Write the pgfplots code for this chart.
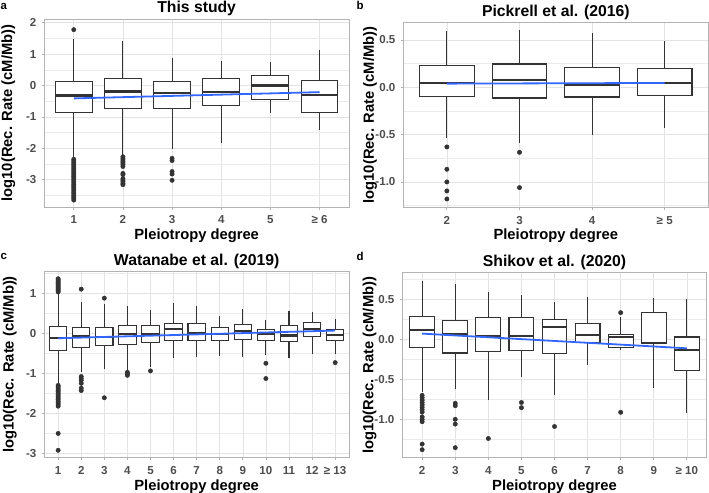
\documentclass[border=0pt]{standalone}
\usepackage{pgfplots}
\pgfplotsset{compat=1.18}
\usepgfplotslibrary{statistics}
\usepackage{fontspec}
\setmainfont{Liberation Sans}
\definecolor{boxc}{HTML}{333333}
\definecolor{fr}{HTML}{B3B3B3}
\definecolor{gridc}{HTML}{E3E3E3}
\definecolor{tickc}{HTML}{4D4D4D}
\definecolor{regc}{HTML}{3366FF}
\newcommand{\mn}{\mbox{-}}
\newcommand{\bx}[6]{\addplot[boxc, line width=1.1bp, boxplot/every median/.style={line width=2.2bp}, boxplot/every box/.style={fill=white}, boxplot prepared={draw direction=y, draw position=#1, lower whisker=#2, lower quartile=#3, median=#4, upper quartile=#5, upper whisker=#6, box extend=0.75, whisker extend=0}] coordinates {};}
\pgfplotsset{
 panel/.style={
  scale only axis, anchor=south west, enlargelimits=false,
  axis line style={fr, line width=0.8bp},
  tick style={fr, line width=0.8bp},
  tick align=outside, tick pos=left,
  major tick length=2.7bp, minor tick length=0pt,
  xmajorgrids, ymajorgrids, yminorgrids,
  major grid style={gridc, line width=0.6bp},
  minor grid style={gridc!70, line width=0.35bp},
  ticklabel style={font=\fontsize{11.6}{12}\selectfont\bfseries, text=tickc},
  xticklabel style={anchor=north, inner sep=0pt, yshift=-6bp},
  yticklabel style={anchor=east, inner sep=0pt, xshift=-5bp},
 },
 outl/.style={only marks, mark=*, mark size=2.2bp, boxc},
 reg/.style={regc, line width=1.8bp},
}
\newcommand{\ylab}{\fontsize{14.8}{16}\selectfont\bfseries log10(Rec. Rate (cM/Mb))}
\newcommand{\xlab}{\fontsize{14.8}{16}\selectfont\bfseries Pleiotropy degree}
\newcommand{\ttl}{\fontsize{15.8}{17}\selectfont\bfseries}
\newcommand{\plab}{\fontsize{11.5}{12}\selectfont\bfseries}
\begin{document}
\begin{tikzpicture}
\useasboundingbox (0bp,0bp) rectangle (709bp,493bp);
% ---------- a ----------
\begin{axis}[panel, name=A, at={(44.3bp,286bp)}, width=304.7bp, height=188bp,
  xmin=0.4, xmax=6.6, xtick={1,2,3,4,5,6}, xticklabels={1,2,3,4,5,≥ 6},
  ymin=-3.87, ymax=2.12, ytick={-3,-2,-1,0,1,2}, yticklabels={\mn3,\mn2,\mn1,0,1,2},
  minor ytick={-3.5,-2.5,-1.5,-0.5,0.5,1.5}]
\bx{1}{-2.3}{-0.85}{-0.32}{0.13}{1.48}
\bx{2}{-2.21}{-0.74}{-0.19}{0.22}{1.43}
\bx{3}{-2.01}{-0.74}{-0.24}{0.12}{0.88}
\bx{4}{-1.82}{-0.64}{-0.20}{0.22}{0.77}
\bx{5}{-0.86}{-0.45}{0.0}{0.33}{0.74}
\bx{6}{-1.41}{-0.87}{-0.29}{0.15}{1.12}
\addplot[outl] coordinates {(1,1.78)
 (1,-2.35) (1,-2.4) (1,-2.45) (1,-2.5) (1,-2.55) (1,-2.6) (1,-2.65) (1,-2.7) (1,-2.75) (1,-2.8)
 (1,-2.85) (1,-2.9) (1,-2.95) (1,-3.0) (1,-3.05) (1,-3.1) (1,-3.15) (1,-3.2) (1,-3.25) (1,-3.3)
 (1,-3.35) (1,-3.4) (1,-3.45) (1,-3.5) (1,-3.55) (1,-3.6) (1,-3.65)
 (2,-2.27) (2,-2.32) (2,-2.37) (2,-2.42) (2,-2.47) (2,-2.52) (2,-2.58) (2,-2.8) (2,-2.84)
 (2,-2.97) (2,-3.02) (2,-3.07) (2,-3.12) (2,-3.16)
 (3,-2.32) (3,-2.39) (3,-2.74) (3,-2.82) (3,-3.02)};
\addplot[reg] coordinates {(1,-0.41) (6,-0.21)};
\end{axis}
% ---------- b ----------
\begin{axis}[panel, name=B, at={(403.3bp,285.7bp)}, width=305bp, height=184.6bp,
  xmin=0.4, xmax=4.6, xtick={1,2,3,4}, xticklabels={2,3,4,≥ 5},
  ymin=-1.268, ymax=0.683, ytick={-1,-0.5,0,0.5}, yticklabels={\mn1.0,\mn0.5,0.0,0.5},
  minor ytick={-1.25,-0.75,-0.25,0.25}]
\bx{1}{-0.54}{-0.099}{0.042}{0.229}{0.60}
\bx{2}{-0.585}{-0.113}{0.077}{0.246}{0.606}
\bx{3}{-0.504}{-0.102}{0.025}{0.208}{0.577}
\bx{4}{-0.426}{-0.088}{0.049}{0.197}{0.489}
\addplot[outl] coordinates {(1,-0.63) (1,-0.866) (1,-1.0) (1,-1.095) (1,-1.18) (2,-0.687) (2,-1.06)};
\addplot[reg] coordinates {(1,0.039) (4,0.046)};
\end{axis}
% ---------- c ----------
\begin{axis}[panel, name=C, at={(44.3bp,35.5bp)}, width=304.7bp, height=186bp,
  xmin=0.4, xmax=13.6, xtick={1,2,3,4,5,6,7,8,9,10,11,12,13}, xticklabels={1,2,3,4,5,6,7,8,9,10,11,12,≥ 13},
  ymin=-3.10, ymax=1.54, ytick={-3,-2,-1,0,1}, yticklabels={\mn3,\mn2,\mn1,0,1},
  minor ytick={-2.5,-1.5,-0.5,0.5,1.5}]
\bx{1}{-1.25}{-0.425}{-0.125}{0.167}{1.0}
\bx{2}{-0.96}{-0.35}{-0.083}{0.15}{0.775}
\bx{3}{-0.89}{-0.317}{-0.10}{0.15}{0.733}
\bx{4}{-0.93}{-0.275}{-0.025}{0.183}{0.667}
\bx{5}{-0.83}{-0.233}{-0.025}{0.19}{0.583}
\bx{6}{-0.61}{-0.183}{0.10}{0.25}{0.75}
\bx{7}{-0.583}{-0.183}{0.008}{0.25}{0.683}
\bx{8}{-0.558}{-0.183}{-0.017}{0.142}{0.44}
\bx{9}{-0.6}{-0.158}{0.05}{0.225}{0.608}
\bx{10}{-0.54}{-0.175}{-0.017}{0.092}{0.333}
\bx{11}{-0.625}{-0.208}{-0.058}{0.2}{0.567}
\bx{12}{-0.517}{-0.092}{0.108}{0.275}{0.525}
\bx{13}{-0.517}{-0.175}{-0.05}{0.083}{0.358}
\addplot[outl] coordinates {
 (1,1.03) (1,1.06) (1,1.09) (1,1.12) (1,1.15) (1,1.18) (1,1.21) (1,1.24) (1,1.27) (1,1.30) (1,1.33) (1,1.36)
 (1,-1.3) (1,-1.34) (1,-1.38) (1,-1.42) (1,-1.46) (1,-1.5) (1,-1.54) (1,-1.58) (1,-1.62) (1,-1.66)
 (1,-1.7) (1,-1.74) (1,-1.78) (1,-1.82) (1,-2.5) (1,-2.92)
 (2,1.1) (2,-1.08) (2,-1.13) (2,-1.18) (2,-1.25) (2,-1.37) (2,-1.43)
 (3,0.875) (3,-1.61) (4,-0.975) (4,-1.01) (4,-1.05) (5,-0.94)
 (10,-0.75) (10,-1.13) (13,-0.733)};
\addplot[reg] coordinates {(1,-0.125) (13,0.067)};
\end{axis}
% ---------- d ----------
\begin{axis}[panel, name=D, at={(402.3bp,35.3bp)}, width=304.4bp, height=185bp,
  xmin=0.4, xmax=9.6, xtick={1,2,3,4,5,6,7,8,9}, xticklabels={2,3,4,5,6,7,8,9,≥ 10},
  ymin=-1.48, ymax=0.8325, ytick={-1,-0.5,0,0.5}, yticklabels={\mn1.0,\mn0.5,0.0,0.5},
  minor ytick={-1.25,-0.75,-0.25,0.25,0.75}]
\bx{1}{-0.66}{-0.108}{0.1125}{0.28}{0.733}
\bx{2}{-0.625}{-0.171}{0.067}{0.233}{0.6875}
\bx{3}{-0.758}{-0.158}{0.042}{0.267}{0.5875}
\bx{4}{-0.475}{-0.142}{0.0375}{0.275}{0.554}
\bx{5}{-0.696}{-0.183}{0.158}{0.25}{0.4625}
\bx{6}{-0.325}{-0.042}{0.05}{0.196}{0.533}
\bx{7}{-0.13}{-0.1}{0.025}{0.0625}{0.28}
\bx{8}{-0.6125}{-0.058}{-0.046}{0.3375}{0.5125}
\bx{9}{-0.917}{-0.3875}{-0.129}{0.029}{0.5}
\addplot[outl] coordinates {
 (1,-0.70) (1,-0.73) (1,-0.76) (1,-0.79) (1,-0.82) (1,-0.85) (1,-0.88) (1,-0.91) (1,-0.97) (1,-1.0) (1,-1.03)
 (1,-1.31) (1,-1.38)
 (2,-0.80) (2,-0.83) (2,-1.0) (2,-1.06) (2,-1.355)
 (3,-1.24) (4,-0.79) (4,-0.855) (5,-1.09) (7,0.333) (7,-0.9125)};
\addplot[reg] coordinates {(1,0.071) (9,-0.1125)};
\end{axis}
% ---------- titles, labels, panel letters ----------
\foreach \n/\t in {A/This study, B/Pickrell et al. (2016), C/Watanabe et al. (2019), D/Shikov et al. (2020)}{
  \node[anchor=base, inner sep=0pt] at ([yshift=6bp]\n.north) {\ttl \t};
  \node[anchor=base, inner sep=0pt] at ([yshift=-32.5bp]\n.south) {\xlab};
}
\node[rotate=90, anchor=base, inner sep=0pt] at ([xshift=-32.3bp]A.west) {\ylab};
\node[rotate=90, anchor=base, inner sep=0pt] at ([xshift=-29.5bp]B.west) {\ylab};
\node[rotate=90, anchor=base, inner sep=0pt] at ([xshift=-30.7bp]C.west) {\ylab};
\node[rotate=90, anchor=base, inner sep=0pt] at ([xshift=-29bp]D.west) {\ylab};
\node[anchor=base west, inner sep=0pt] at (0.5bp,483.5bp) {\plab a};
\node[anchor=base west, inner sep=0pt] at (356.5bp,483.5bp) {\plab b};
\node[anchor=base west, inner sep=0pt] at (0.5bp,233bp) {\plab c};
\node[anchor=base west, inner sep=0pt] at (356.5bp,232bp) {\plab d};
\end{tikzpicture}
\end{document}
